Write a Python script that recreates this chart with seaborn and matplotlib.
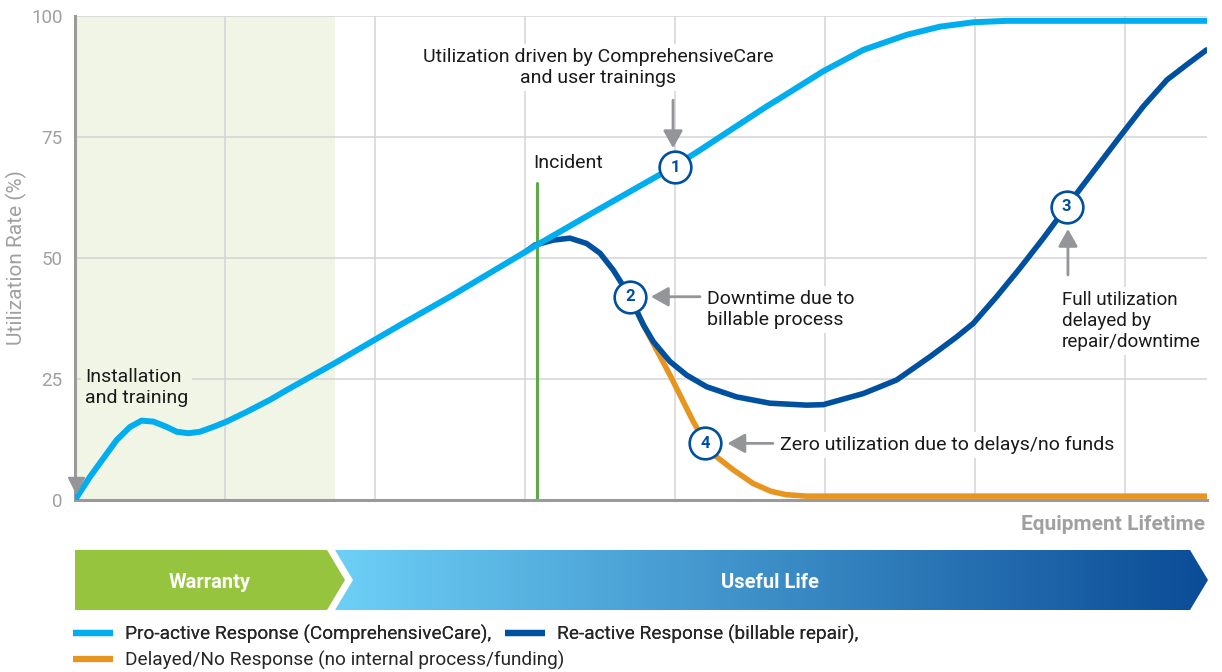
import numpy as np
import pandas as pd
import matplotlib.pyplot as plt
import seaborn as sns
from matplotlib.patches import Polygon
from matplotlib.colors import LinearSegmentedColormap

# Values (x = lifetime in grid units, y = utilization %)
pro_x = [0, 0.05, 0.1, 0.189, 0.278, 0.367, 0.444, 0.522, 0.611, 0.678, 0.756, 0.833, 0.922,
         1.011, 1.144, 1.3, 1.411, 1.733, 2.17, 2.5, 3.08, 3.5, 4.0, 4.167, 4.61, 4.7, 4.989,
         5.256, 5.544, 5.767, 5.989, 6.21, 7.55]
pro_y = [0, 2.4, 4.8, 8.6, 12.4, 15.1, 16.4, 16.2, 15.1, 14.1, 13.8, 14.1, 15.1,
         16.2, 18.2, 20.7, 22.7, 28.3, 36.2, 42.0, 52.7, 60.2, 69.0, 72.3, 81.3, 83.0, 88.6,
         93.0, 96.1, 97.8, 98.7, 99.0, 99.0]

re_x = [3.0, 3.067, 3.189, 3.3, 3.411, 3.5, 3.589, 3.7, 3.789, 3.856, 3.967, 4.078, 4.211,
        4.411, 4.633, 4.878, 4.989, 5.256, 5.478, 5.7, 5.878, 5.989, 6.144, 6.3, 6.456, 6.611,
        6.967, 7.122, 7.28, 7.41, 7.544]
re_y = [51.2, 52.7, 53.7, 54.1, 53.0, 51.0, 47.5, 42.0, 36.2, 32.7, 28.6, 25.8, 23.4,
        21.3, 20.0, 19.6, 19.7, 22.0, 24.8, 29.6, 33.7, 36.5, 42.0, 47.9, 54.1, 60.6,
        75.1, 81.3, 86.8, 89.9, 93.0]

delay_x = [3.7, 3.789, 3.967, 4.122, 4.2, 4.278, 4.39, 4.522, 4.64, 4.74, 4.878, 7.55]
delay_y = [42.0, 36.2, 25.8, 16.2, 12.0, 8.9, 6.2, 3.4, 1.8, 1.1, 0.8, 0.8]

callout_x = [4.0, 3.7, 6.611, 4.2]
callout_y = [68.8, 42.0, 60.6, 11.7]
callout_labels = ["1", "2", "3", "4"]

incident_x = 3.08
incident_top = 65.5
warranty_end = 1.733

y_ticks = [0, 25, 50, 75, 100]

C_PRO = "#00AEEF"
C_RE = "#0050A0"
C_DELAY = "#E8951F"
C_GRAY = "#939598"

sns.set_theme(style="white")
plt.rcParams["font.family"] = ["Roboto", "DejaVu Sans"]

fig = plt.figure(figsize=(12.22, 6.72), dpi=100)

# band axes in pixel coordinates for the lifetime arrows
band = fig.add_axes([0, 0, 1, 1])
band.axis("off")

warranty = Polygon([(75, 550), (327, 550), (345, 580), (327, 610), (75, 610)],
                   closed=True, facecolor="#96C43E", edgecolor="none")
band.add_patch(warranty)
useful = Polygon([(335, 550), (1190, 550), (1208, 580), (1190, 610), (335, 610), (353, 580)],
                 closed=True, facecolor="none", edgecolor="none")
band.add_patch(useful)
cmap = LinearSegmentedColormap.from_list("life", ["#6DCFF6", "#0B4C97"])
img = band.imshow(np.linspace(0, 1, 256).reshape(1, -1), cmap=cmap, aspect="auto",
                  extent=[335, 1208, 610, 550])
img.set_clip_path(useful)
band.set_xlim(0, 1222)
band.set_ylim(672, 0)
band.text(210, 582, "Warranty", color="white", fontsize=14.5, fontweight="bold",
          ha="center", va="center")
band.text(770, 582, "Useful Life", color="white", fontsize=14.5, fontweight="bold",
          ha="center", va="center")
band.text(1205, 525, "Equipment Lifetime", color="#A0A0A0", fontsize=15, fontweight="bold",
          ha="right", va="center")

# main chart
ax = fig.add_axes([75 / 1222, 172 / 672, 1132 / 1222, 484 / 672])
ax.axvspan(0, warranty_end, color="#F1F5E6", zorder=0, lw=0)
ax.plot([incident_x, incident_x], [0, incident_top], color="#5DAA46", lw=2.2, zorder=1.5)

df_delay = pd.DataFrame({"x": delay_x, "y": delay_y})
df_re = pd.DataFrame({"x": re_x, "y": re_y})
df_pro = pd.DataFrame({"x": pro_x, "y": pro_y})
sns.lineplot(data=df_delay, x="x", y="y", ax=ax, color=C_DELAY, lw=4, sort=False,
             solid_capstyle="round", solid_joinstyle="round", zorder=2)
sns.lineplot(data=df_re, x="x", y="y", ax=ax, color=C_RE, lw=4, sort=False,
             solid_capstyle="round", solid_joinstyle="round", zorder=3)
sns.lineplot(data=df_pro, x="x", y="y", ax=ax, color=C_PRO, lw=4.3, sort=False,
             solid_capstyle="round", solid_joinstyle="round", zorder=4)

df_call = pd.DataFrame({"x": callout_x, "y": callout_y})
sns.scatterplot(data=df_call, x="x", y="y", ax=ax, s=520, color="white", edgecolor=C_RE,
                linewidth=1.9, zorder=6)
for cx, cy, lab in zip(callout_x, callout_y, callout_labels):
    ax.text(cx, cy, lab, color=C_RE, fontsize=12, fontweight="bold", ha="center",
            va="center", zorder=7)

ax.set_xlim(0, 7.547)
ax.set_ylim(0, 100)
ax.set_xticks(range(1, 8))
ax.set_xticklabels([])
ax.set_yticks(y_ticks)
ax.set_yticklabels([str(t) for t in y_ticks])
ax.tick_params(length=0, labelsize=13.5, labelcolor="#A0A0A0", pad=9)
ax.set_xlabel("")
ax.set_ylabel("Utilization Rate (%)", color="#A0A0A0", fontsize=15, labelpad=3)
ax.grid(True, color="#D4D4D4", lw=1.1)
ax.set_axisbelow(True)
for s in ["top", "right"]:
    ax.spines[s].set_visible(False)
ax.spines["left"].set_color("#9A9A9A")
ax.spines["left"].set_linewidth(2.2)
ax.spines["bottom"].set_color("#9A9A9A")
ax.spines["bottom"].set_linewidth(2.2)

# annotations
arrow = dict(arrowstyle="-|>,head_length=0.75,head_width=0.42", color=C_GRAY, lw=2,
             shrinkA=0, shrinkB=0, mutation_scale=14)
ax.annotate("", xy=(3.987, 72.7), xytext=(3.987, 82.6), arrowprops=arrow, zorder=5)
ax.annotate("", xy=(3.84, 42.0), xytext=(4.167, 42.0), arrowprops=arrow, zorder=5)
ax.annotate("", xy=(6.62, 56.0), xytext=(6.62, 46.5), arrowprops=arrow, zorder=5)
ax.annotate("", xy=(4.35, 11.7), xytext=(4.653, 11.7), arrowprops=arrow, zorder=5)
ax.plot([0.01], [3.0], marker="v", ms=12, color=C_GRAY, clip_on=False, zorder=5)

txt = dict(fontsize=14, color="#1A1A1A", zorder=5)
white_box = dict(facecolor="white", edgecolor="none", pad=3)
ax.text(3.487, 89.3, "Utilization driven by ComprehensiveCare\nand user trainings",
        ha="center", va="center", multialignment="center", linespacing=1.22,
        bbox=white_box, **txt)
ax.text(4.213, 39.3, "Downtime due to\nbillable process", ha="left", va="center",
        linespacing=1.22, bbox=white_box, **txt)
ax.text(6.58, 37.0, "Full utilization\ndelayed by\nrepair/downtime", ha="left", va="center",
        linespacing=1.22, bbox=white_box, fontsize=13.6, color="#1A1A1A", zorder=5)
ax.text(4.7, 11.4, "Zero utilization due to delays/no funds", ha="left", va="center",
        bbox=white_box, **txt)
ax.text(0.067, 23.2, "Installation\nand training", ha="left", va="center", linespacing=1.22,
        bbox=dict(facecolor="#F1F5E6", edgecolor="none", pad=3), **txt)
ax.text(3.053, 69.6, "Incident", ha="left", va="center", **txt)

# legend
h_pro = plt.Line2D([], [], color=C_PRO, lw=4.5, solid_capstyle="butt")
h_re = plt.Line2D([], [], color=C_RE, lw=4.5, solid_capstyle="butt")
h_delay = plt.Line2D([], [], color=C_DELAY, lw=4.5, solid_capstyle="butt")
leg1 = fig.legend([h_pro, h_re], ["Pro-active Response (ComprehensiveCare),",
                                   "Re-active Response (billable repair),"],
                  loc="center left", bbox_to_anchor=(73 / 1222, 1 - 634 / 672), ncol=2,
                  frameon=False, fontsize=13.7, handlelength=2.1, handletextpad=0.65,
                  columnspacing=0.7, borderpad=0, borderaxespad=0)
leg2 = fig.legend([h_delay], ["Delayed/No Response (no internal process/funding)"],
                  loc="center left", bbox_to_anchor=(73 / 1222, 1 - 660 / 672),
                  frameon=False, fontsize=13.7, handlelength=2.1, handletextpad=0.65,
                  borderpad=0, borderaxespad=0)
fig.add_artist(leg1)

fig.savefig("out.png", dpi=100)
